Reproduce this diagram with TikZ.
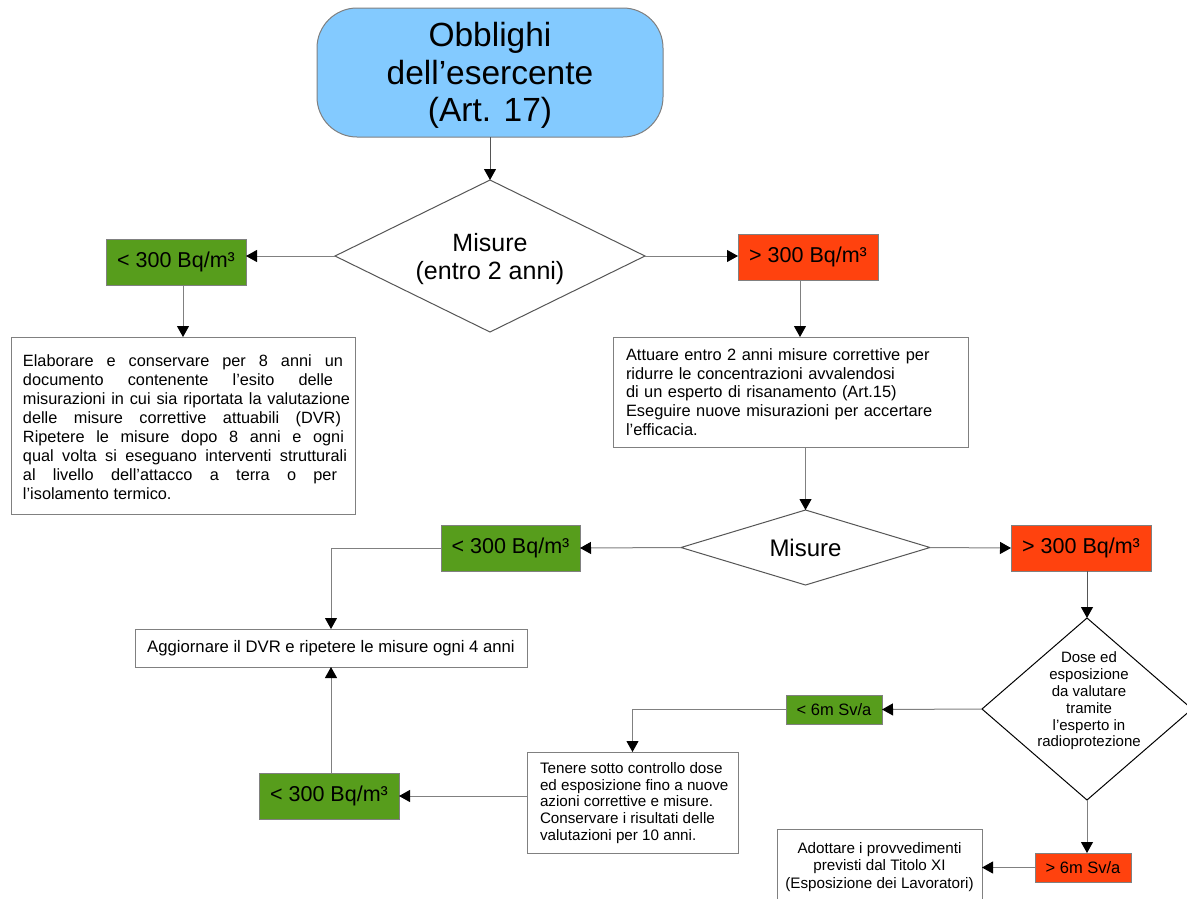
\documentclass[tikz,border=0pt]{standalone}
\usepackage{fontspec}
\setmainfont{Liberation Sans}
\usetikzlibrary{arrows.meta,shapes.geometric}
\definecolor{lgreen}{HTML}{579D1C}
\definecolor{lorange}{HTML}{FF420E}
\definecolor{lblue}{HTML}{83CAFF}
\definecolor{lgray}{HTML}{808080}
\definecolor{dgray}{HTML}{555555}
\newcommand\jline[2]{\hbox to #1{\spaceskip=0.28em plus 1fil\relax #2}}
\begin{document}
\begin{tikzpicture}[x=1pt,y=-1pt,
  every node/.style={inner sep=0pt, outer sep=0pt},
  wbox/.style={draw=lgray, line width=1pt, fill=white},
  gbox/.style={draw=lgray, line width=1pt, fill=lgreen, font=\fontsize{21.5}{25}\selectfont},
  obox/.style={draw=lgray, line width=1pt, fill=lorange, font=\fontsize{21.5}{25}\selectfont},
  sgbox/.style={draw=lgray, line width=1pt, fill=lgreen, font=\fontsize{16.5}{19}\selectfont},
  sobox/.style={draw=lgray, line width=1pt, fill=lorange, font=\fontsize{16.5}{19}\selectfont},
  dia/.style={diamond, draw=dgray, line width=1pt, fill=white, aspect=2},
  arr/.style={draw=lgray, line width=1pt, -{Triangle[width=12pt,length=11pt,color=black]}},
  arrb/.style={draw=dgray, line width=1pt, -{Triangle[width=12pt,length=11pt,color=black]}}
]
\useasboundingbox (0,0) rectangle (1187,898);
\fill[white] (0,0) rectangle (1187,898);

% top
\node[wbox, fill=lblue, rounded corners=40pt, minimum width=346pt, minimum height=129pt] (top) at (490,72.5) {};
\node[align=center, font=\fontsize{33.5}{37.5}\selectfont] (topt) at (490,75.5)
      {Obblighi\\dell’esercente\\(Art. 17)};

% diamond 1
\node[dia, minimum width=310pt, minimum height=152pt] (d1) at (490,256) {};
\node[align=center, font=\fontsize{25}{28}\selectfont] (d1t) at (490,259) {Misure\\(entro 2 anni)};

\node[gbox, minimum width=140pt, minimum height=46pt] (g1) at (176,262) {< 300 Bq/m³};
\node[obox, minimum width=140pt, minimum height=46pt] (o1) at (808,257) {> 300 Bq/m³};

% left text box
\node[wbox, minimum width=344pt, minimum height=177pt] (t1) at (183,425.5) {};
\node[anchor=west, align=left, font=\fontsize{16.3}{19}\selectfont] (t1t) at (23,427)
{\jline{320pt}{Elaborare e conservare per 8 anni un}\\
 \jline{310pt}{documento contenente l’esito delle}\\
 \jline{327pt}{misurazioni in cui sia riportata la valutazione}\\
 \jline{318pt}{delle misure correttive attuabili (DVR)}\\
 \jline{321pt}{Ripetere le misure dopo 8 anni e ogni}\\
 \jline{324pt}{qual volta si eseguano interventi strutturali}\\
 \jline{314pt}{al livello dell’attacco a terra o per}\\
 l’isolamento termico.};

% right text box
\node[wbox, minimum width=355pt, minimum height=110pt, align=left, text width=329pt,
      font=\fontsize{16.4}{18.8}\selectfont] (t2) at (790.5,392)
{Attuare entro 2 anni misure correttive per\\
 ridurre le concentrazioni avvalendosi\\
 di un esperto di risanamento (Art.15)\\
 Eseguire nuove misurazioni per accertare\\
 l’efficacia.};

% diamond 2
\node[dia, minimum width=249pt, minimum height=75pt] (d2) at (805.5,547.5) {};
\node[font=\fontsize{24}{28}\selectfont] (d2t) at (805.5,548) {Misure};

\node[gbox, minimum width=139pt, minimum height=46pt] (g2) at (510.5,548) {< 300 Bq/m³};
\node[obox, minimum width=140pt, minimum height=46pt] (o2) at (1081,548) {> 300 Bq/m³};

% Aggiornare
\node[wbox, minimum width=392pt, minimum height=38pt, font=\fontsize{16.7}{19}\selectfont]
      (agg) at (331,648) {Aggiornare il DVR e ripetere le misure ogni 4 anni};

% diamond 3
\node[dia, draw=black, minimum width=210pt, minimum height=182pt] (d3) at (1087,709) {};
\node[align=center, font=\fontsize{15}{16.8}\selectfont] (d3t) at (1089,701)
      {Dose ed\\esposizione\\da valutare\\tramite\\l’esperto in\\radioprotezione};

\node[sgbox, minimum width=96pt, minimum height=29pt] (g3) at (834,709.5) {< 6m Sv/a};

% Tenere
\node[wbox, minimum width=211pt, minimum height=101pt] (ten) at (632.5,802.5) {};
\node[anchor=west, align=left, font=\fontsize{15.2}{16.6}\selectfont] (tent) at (540,803)
{Tenere sotto controllo dose\\
 ed esposizione fino a nuove\\
 azioni correttive e misure.\\
 Conservare i risultati delle\\
 valutazioni per 10 anni.};

\node[gbox, minimum width=140pt, minimum height=46pt] (g4) at (329,796) {< 300 Bq/m³};

\node[sobox, minimum width=96pt, minimum height=29pt] (o3) at (1083,867.5) {> 6m Sv/a};

% Adottare
\node[wbox, minimum width=205pt, minimum height=80pt] (ado) at (879.5,869) {};
\node[align=center, font=\fontsize{15.2}{17.5}\selectfont] (adot) at (879.5,867)
      {Adottare i provvedimenti\\previsti dal Titolo XI\\(Esposizione dei Lavoratori)};

% connectors
\draw[arrb] (top.south) -- (d1.north);
\draw[arr] (d1.west) -- (d1.west -| g1.east);
\draw[arr] (d1.east) -- (d1.east -| o1.west);
\draw[arr] ([xshift=7pt]g1.south) -- ([xshift=7pt]g1.south |- t1.north);
\draw[arr] ([xshift=-8pt]o1.south) -- ([xshift=-8pt]o1.south |- t2.north);
\draw[arr] (t2.south -| d2.north) -- (d2.north);
\draw[arr] (d2.west) -- (g2.east);
\draw[arr] (d2.east) -- (o2.west);
\draw[arr] (g2.west) -| (agg.north);
\draw[arrb] (o2.south -| d3.north) -- (d3.north);
\draw[arr] (d3.west) -- (g3.east);
\draw[arr] (g3.west) -| (ten.north);
\draw[arr] (ten.west |- g4.east) -- (g4.east);
\draw[arr] (g4.north -| agg.south) -- (agg.south);
\draw[arr] (d3.south) -- (d3.south |- o3.north);
\draw[arr] (o3.west) -- (o3.west -| ado.east);
\end{tikzpicture}
\end{document}
